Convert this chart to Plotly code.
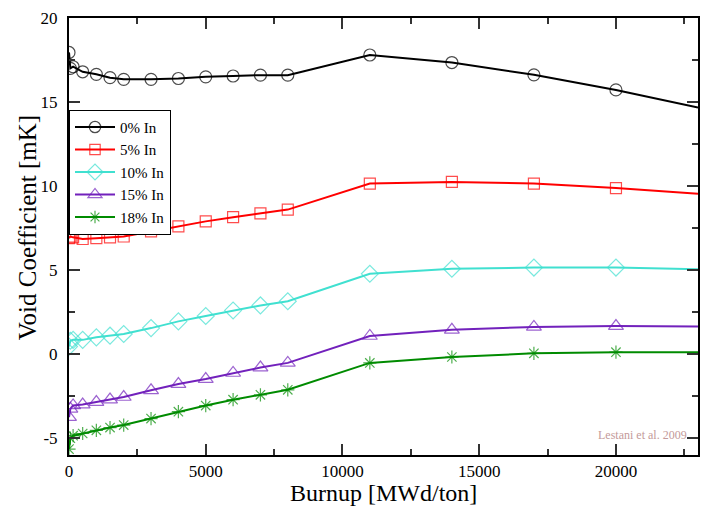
import plotly.graph_objects as go

burnup = [0, 50, 150, 500, 1000, 1500, 2000, 3000, 4000, 5000, 6000, 7000, 8000,
          11000, 14000, 17000, 20000, 23000]
void_0 = [17.95, 17.0, 17.1, 16.8, 16.65, 16.45, 16.35, 16.35, 16.4, 16.5, 16.55, 16.6, 16.6,
          17.8, 17.35, 16.62, 15.72, 14.68]
void_5 = [6.9, 7.0, 6.95, 6.85, 6.9, 6.95, 7.0, 7.3, 7.6, 7.9, 8.15, 8.38, 8.6,
          10.15, 10.25, 10.15, 9.88, 9.54]
void_10 = [0.45, 0.8, 0.85, 0.85, 1.0, 1.1, 1.2, 1.55, 1.95, 2.27, 2.6, 2.9, 3.15,
           4.78, 5.08, 5.15, 5.15, 5.05]
void_15 = [-3.75, -3.25, -3.05, -3.0, -2.85, -2.7, -2.55, -2.15, -1.78, -1.48, -1.12, -0.8, -0.52,
           1.08, 1.45, 1.62, 1.67, 1.65]
void_18 = [-5.65, -5.0, -4.85, -4.72, -4.53, -4.37, -4.22, -3.83, -3.42, -3.06, -2.71, -2.42, -2.12,
           -0.52, -0.17, 0.05, 0.12, 0.12]

x_ticks = [0, 5000, 10000, 15000, 20000]
x_ticktext = ["0", "5000", "10000", "15000", "20000"]
y_ticks = [-5, 0, 5, 10, 15, 20]
y_ticktext = ["-5", "0", "5", "10", "15", "20"]

names = ["0% In", "5% In", "10% In", "15% In", "18% In"]
series = [void_0, void_5, void_10, void_15, void_18]
colors = ["#000000", "#ff0000", "#40e0d0", "#7221bc", "#008b00"]
symbols = ["circle-open", "square-open", "diamond-open", "triangle-up-open", "asterisk-open"]
msizes = [12, 11, 13, 13, 11]

fig = go.Figure()
for name, ys, col, sym, ms in zip(names, series, colors, symbols, msizes):
    sizes = [ms] * (len(burnup) - 1) + [0]
    fig.add_trace(go.Scatter(
        x=burnup, y=ys, name=name, mode="lines+markers",
        line=dict(color=col, width=2),
        marker=dict(symbol=sym, size=sizes, color=col, line=dict(color=col, width=1.2)),
        cliponaxis=True,
    ))

serif = "Liberation Serif"
tickfont = dict(family=serif, size=17, color="black")
fig.update_xaxes(
    range=[0, 23000], tickmode="array", tickvals=x_ticks, ticktext=x_ticktext,
    showline=True, linecolor="black", linewidth=2, mirror="allticks",
    ticks="inside", ticklen=11, tickwidth=1.5, tickcolor="#333333",
    showgrid=False, zeroline=False, tickfont=tickfont,
    minor=dict(dtick=2500, ticks="inside", ticklen=6, tickwidth=1.5, tickcolor="#333333"),
)
fig.update_yaxes(
    range=[-6, 20], tickmode="array", tickvals=y_ticks, ticktext=y_ticktext,
    showline=True, linecolor="black", linewidth=2, mirror="allticks",
    ticks="inside", ticklen=11, tickwidth=1.5, tickcolor="#333333",
    showgrid=False, zeroline=False, tickfont=tickfont,
    minor=dict(dtick=2.5, ticks="inside", ticklen=6, tickwidth=1.5, tickcolor="#333333"),
    ticklabelstandoff=6,
)
fig.add_annotation(
    x=0.5, y=-0.056, xref="paper", yref="paper", xanchor="center", yanchor="top",
    text="Burnup [MWd/ton]", showarrow=False, borderpad=0,
    font=dict(family=serif, size=24, color="black"),
)
fig.add_annotation(
    x=-0.066, y=0.52, xref="paper", yref="paper", xanchor="center", yanchor="middle",
    text="Void Coefficient [mK]", showarrow=False, textangle=-90,
    font=dict(family=serif, size=25, color="black"),
)
fig.add_annotation(
    x=0.985, y=0.045, xref="paper", yref="paper", xanchor="right", yanchor="middle",
    text="Lestani et al. 2009", showarrow=False,
    font=dict(family=serif, size=12, color="#c49a9a"),
)
fig.update_layout(
    width=709, height=506,
    margin=dict(l=69, r=9, t=13, b=51),
    plot_bgcolor="white", paper_bgcolor="white",
    showlegend=True,
    legend=dict(
        x=0.0, y=0.79, xanchor="left", yanchor="top",
        bgcolor="white", bordercolor="black", borderwidth=1,
        font=dict(family=serif, size=15, color="black"),
        itemwidth=40, tracegroupgap=0,
    ),
)
fig.write_html("out.html")
